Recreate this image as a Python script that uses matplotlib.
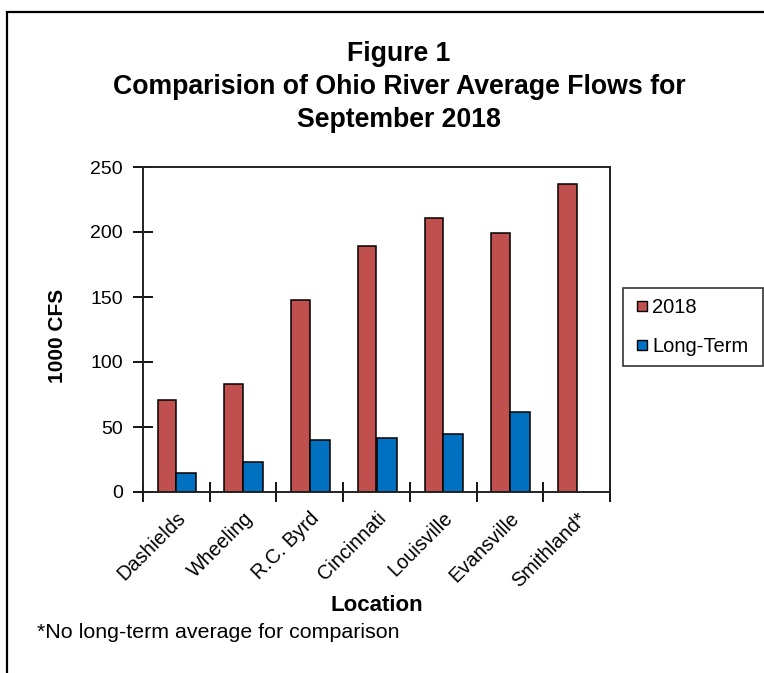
import matplotlib
matplotlib.use("Agg")
import matplotlib.pyplot as plt
from matplotlib.patches import Rectangle
from matplotlib.lines import Line2D
import numpy as np

plt.rcParams['font.family'] = ['Liberation Sans', 'DejaVu Sans']

locations = ["Dashields", "Wheeling", "R.C. Byrd", "Cincinnati", "Louisville", "Evansville", "Smithland*"]
flow_2018 = [71, 83, 148, 189, 211, 199, 237]
long_term = [15, 23, 40, 41.5, 44.5, 61.5, None]
yticks = [0, 50, 100, 150, 200, 250]

c2018 = "#C0504D"
clt = "#0070C0"

W, H = 764, 673
fig = plt.figure(figsize=(W/100, H/100), dpi=100)
ax = fig.add_axes([143/W, 1-492/H, (610-143)/W, (492-167)/H])

n = len(locations)
x = np.arange(n) + 0.5
bw = 0.28
ax.bar(x - bw, flow_2018, width=bw, align='edge', color=c2018, edgecolor='black', linewidth=1.1, label='2018')
lt_x = [xi for xi, v in zip(x, long_term) if v is not None]
lt_v = [v for v in long_term if v is not None]
ax.bar(np.array(lt_x), lt_v, width=bw + 0.02, align='edge', color=clt, edgecolor='black', linewidth=1.1, label='Long-Term')

ax.set_xlim(0, n)
ax.set_ylim(0, 250)
ax.set_yticks(yticks)
ax.set_xticks(np.arange(n + 1))
ax.set_xticklabels([])
ax.set_xticks(x, minor=True)
ax.set_xticklabels(locations, minor=True, rotation=45, ha='right', va='top', rotation_mode='anchor', fontsize=14.3)
ax.tick_params(axis='x', which='minor', length=0, pad=12)
ax.tick_params(axis='x', which='major', direction='inout', length=15, width=1.3)
ax.tick_params(axis='y', direction='inout', length=15, width=1.3, labelsize=14, pad=7)
for s in ax.spines.values():
    s.set_linewidth(1.4)
    s.set_color('#222222')

ax.set_ylabel("1000 CFS", fontsize=15, fontweight='bold')
ax.yaxis.set_label_coords((67-143)/467, 0.48)
ax.set_xlabel("Location", fontsize=16, fontweight='bold', va='top')
ax.xaxis.set_label_coords(0.5, (492-595)/325)

fig.text(399/W, 1-87/H, "Figure 1\nComparision of Ohio River Average Flows for\nSeptember 2018",
         ha='center', va='center', fontsize=19.2, fontweight='bold', linespacing=1.34)
fig.text(37/W, 1-633/H, "*No long-term average for comparison", ha='left', va='center', fontsize=15.4)

handles = [Line2D([], [], linestyle='none', marker='s', markersize=7, markerfacecolor=c2018,
                  markeredgecolor='black', markeredgewidth=1.0, label='2018'),
           Line2D([], [], linestyle='none', marker='s', markersize=7, markerfacecolor=clt,
                  markeredgecolor='black', markeredgewidth=1.0, label='Long-Term')]
leg = fig.legend(handles=handles, loc='upper left', bbox_to_anchor=(623/W, 1-288/H, (763-623)/W, 0),
                 mode='expand', fontsize=14.5, frameon=True, fancybox=False, edgecolor='black',
                 handlelength=0.9, handletextpad=0.05, labelspacing=1.0,
                 borderpad=0.5, borderaxespad=0)
leg.get_frame().set_linewidth(1.2)

border = Rectangle((7/W, -0.2), 1.5, 1 - 12/H + 0.2, transform=fig.transFigure,
                   fill=False, edgecolor='black', linewidth=1.6)
fig.patches.append(border)

fig.savefig("out.png", dpi=100)
